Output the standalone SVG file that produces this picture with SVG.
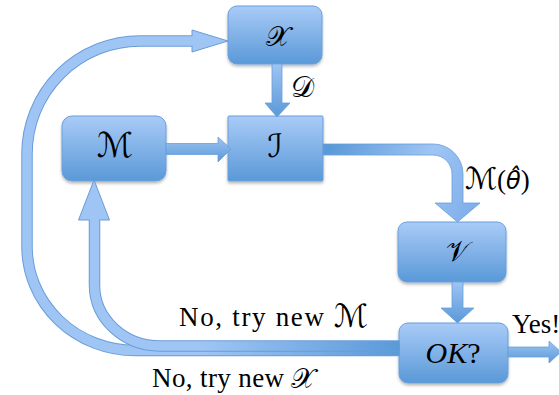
<svg xmlns="http://www.w3.org/2000/svg" width="559" height="395" viewBox="0 0 559 395">
  <defs>
    <linearGradient id="nodeFill" x1="0" y1="0" x2="0" y2="1">
      <stop offset="0" stop-color="#a9cbf7"/>
      <stop offset="1" stop-color="#5a99d8"/>
    </linearGradient>
    <linearGradient id="arrowV" x1="0" y1="0" x2="0" y2="1">
      <stop offset="0" stop-color="#9ec4f3"/>
      <stop offset="1" stop-color="#5a99d8"/>
    </linearGradient>
    <linearGradient id="arrowBend" gradientUnits="userSpaceOnUse" x1="330" y1="150" x2="470" y2="215">
      <stop offset="0" stop-color="#5b9ad9"/>
      <stop offset="0.6" stop-color="#9fc5f4"/>
      <stop offset="1" stop-color="#7fb0ea"/>
    </linearGradient>
    <linearGradient id="loopFill" gradientUnits="userSpaceOnUse" x1="200" y1="0" x2="399" y2="0">
      <stop offset="0" stop-color="#9fc5f4"/>
      <stop offset="1" stop-color="#5b9ad9"/>
    </linearGradient>
    <filter id="shadow" x="-10%" y="-10%" width="120%" height="130%">
      <feDropShadow dx="0" dy="2" stdDeviation="1.5" flood-color="#000" flood-opacity="0.28"/>
    </filter>
  </defs>
  <style>
    .node { fill: url(#nodeFill); stroke: #6a9edb; stroke-width: 1; filter: url(#shadow); }
    .math { font-family: "DejaVu Serif", "DejaVu Sans", serif; font-size: 27px; fill: #000; }
    .txt { font-family: "Liberation Serif", serif; font-size: 27px; fill: #000; }
    .arrow { stroke: #6a9edb; stroke-width: 0.8; }
    .loopEdge { fill: none; stroke: #6a9cd8; stroke-width: 11.5; }
    .loopBody { fill: none; stroke: url(#loopFill); stroke-width: 9.5; }
    .loopHead { fill: #9fc5f4; stroke: #6a9cd8; stroke-width: 1; }
  </style>

  <!-- process boxes -->
  <g id="node-X">
    <rect class="node" x="228" y="6" width="94" height="58" rx="9"/>
    <text class="math" x="278" y="46" text-anchor="middle" style="font-size:28px">𝒳</text>
  </g>
  <g id="node-I">
    <rect class="node" x="228" y="116" width="95" height="65" rx="1"/>
    <text class="math" x="275" y="157" text-anchor="middle" style="font-size:32px">ℐ</text>
  </g>
  <g id="node-M">
    <rect class="node" x="62" y="116" width="104" height="65" rx="10"/>
    <text class="math" x="115" y="157" text-anchor="middle" style="font-size:34px">ℳ</text>
  </g>
  <g id="node-V">
    <rect class="node" x="398" y="222" width="108" height="60" rx="9"/>
    <text class="math" x="457" y="261" text-anchor="middle" style="font-size:28px">𝒱</text>
  </g>
  <g id="node-OK">
    <rect class="node" x="399" y="323" width="109" height="60" rx="9"/>
    <text class="txt" x="453" y="363" text-anchor="middle" style="font-size:30px"><tspan font-style="italic">OK</tspan>?</text>
  </g>

  <!-- connectors -->
  <g id="connectors">
    <!-- X -> I -->
    <path class="arrow" fill="url(#arrowV)" d="M272,64 L282,64 L282,103 L290,103 L277,117 L265,103 L272,103 Z"/>
    <!-- M -> I -->
    <path class="arrow" fill="url(#arrowV)" d="M166,143.5 L218,143.5 L218,137 L231,149 L218,162 L218,154.5 L166,154.5 Z"/>
    <!-- I -> V (bent) -->
    <path class="arrow" fill="url(#arrowBend)" d="M323,144 L433,144 A30,30 0 0 1 463,174 L463,203 L480,203 L457.5,222 L435,203 L452,203 L452,174 A19,19 0 0 0 433,155 L323,155 Z"/>
    <!-- V -> OK -->
    <path class="arrow" fill="url(#arrowV)" d="M452,282 L463,282 L463,308 L474,308 L457.5,323 L441,308 L452,308 Z"/>
    <!-- OK -> out -->
    <path class="arrow" fill="url(#arrowV)" d="M508,347 L549,347 L549,341 L561,352 L549,363 L549,357 L508,357 Z"/>

    <!-- feedback: try new X -->
    <polygon class="loopHead" points="192,30 228,41 192,52"/>
    <path class="loopEdge" d="M399.5,350.5 L135,350.5 A108,104 0 0 1 27,246.5 L27,154 A113,113 0 0 1 140,41 L192,41"/>
    <path class="loopBody" d="M399.5,350.5 L135,350.5 A108,104 0 0 1 27,246.5 L27,154 A113,113 0 0 1 140,41 L193.5,41"/>

    <!-- feedback: try new M -->
    <polygon class="loopHead" points="78.5,220 94,180 109.5,220"/>
    <path class="loopEdge" d="M399.5,346 L160,346 A65.5,61 0 0 1 94.5,285 L94.5,220"/>
    <path class="loopBody" d="M399.5,346 L160,346 A65.5,61 0 0 1 94.5,285 L94.5,218.5"/>
  </g>

  <!-- connector labels -->
  <text class="math" x="291" y="97" style="font-size:29px">𝒟</text>
  <text class="math" x="465" y="189" style="font-size:30px">ℳ<tspan style="font-family:'Liberation Serif',serif;font-size:27px">(</tspan><tspan style="font-family:'DejaVu Sans',sans-serif;font-size:24px;font-style:italic">θ̂</tspan><tspan style="font-family:'Liberation Serif',serif;font-size:27px">)</tspan></text>
  <text class="txt" x="512" y="333">Yes!</text>
  <text class="txt" x="179" y="326" textLength="145" lengthAdjust="spacing">No, try new</text>
  <text class="math" x="334" y="327" style="font-size:32px">ℳ</text>
  <text class="txt" x="152" y="387" textLength="132" lengthAdjust="spacing">No, try new</text>
  <text class="math" x="291" y="388" style="font-size:28px">𝒳</text>
</svg>
